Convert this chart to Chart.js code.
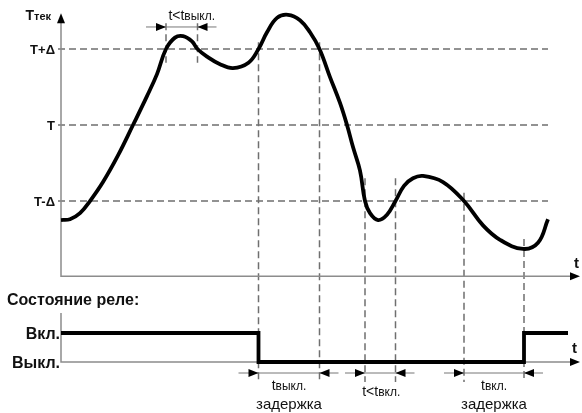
<!DOCTYPE html>
<html>
<head>
<meta charset="utf-8">
<script src="https://cdn.jsdelivr.net/npm/chart.js@4"></script>
<style>
  body { margin: 0; background: #fff; }
  #wrap { width: 582px; height: 413px; position: relative; }
</style>
</head>
<body>
<div id="wrap"><canvas id="myChart"></canvas></div>
<script>

const FONT = "'Liberation Sans', Arial, sans-serif";

// temperature curve (time units, temperature in Δ units around T)
const curveTime = [0, 1.8, 3.8, 5.8, 8.4, 11.4, 14.4, 17.2, 19.2, 21.0, 22.8, 24.4, 26.2, 27.3, 29.2, 31.8, 34.4, 37.5,
  39.5, 41.2, 43.2, 45.4, 47.8, 49.8, 51.7, 53.8, 55.8, 57.2, 58.4, 59.8, 60.8, 61.8, 63.4, 65.2, 66.9, 68.6, 70.4, 72.4,
  76.4, 80.6, 84.4, 87.8, 92.4, 95.4, 97.4];
const curveTemp = [-1.25, -1.24, -1.16, -1, -0.75, -0.4, 0, 0.38, 0.67, 1, 1.15, 1.17, 1.1, 1, 0.9, 0.8, 0.75, 0.82,
  1, 1.22, 1.41, 1.45, 1.38, 1.22, 1, 0.63, 0.29, 0, -0.29, -0.6, -1, -1.16, -1.25, -1.18, -1, -0.8, -0.7, -0.67,
  -0.75, -1, -1.32, -1.51, -1.63, -1.55, -1.24];

// threshold levels
const levelValues = [1, 0, -1];
const levelLabels = ['T+Δ', 'T', 'T-Δ'];
const levelFrom = -0.6;
const levelTo = 97.4;

// moments when the curve crosses a threshold
const eventTime = [39.5, 51.7, 60.8, 66.9, 80.6, 92.6];
const eventTop = [1.09, 1.09, -0.7, -0.7, -0.89, -1.5];
const eventBottom = -3.38;

// short overshoot (t < t выкл.)
const shortTime = [21.0, 27.3];
const shortTop = 1.34;
const shortBottom = 0.82;

// relay state
const relayTime = [0, 39.5, 92.6, 101.4];
const relayState = [1, 0, 1, 1];
const relayLabels = ['Выкл.', 'Вкл.'];

// axes extents
const axisTempMin = -1.99;
const axisTempMax = 1.47;
const axisTimeMax = 103.8;
const axisRelayMax = 1.69;

// timing brackets
const topGap = { from: 21.0, to: 27.3, level: 1.29, main: 't<t', sub: 'выкл.' };
const relayGapLevel = -0.38;
const relayGaps = [
  { from: 39.5, to: 51.7, main: 't', sub: 'выкл.', note: 'задержка' },
  { from: 60.8, to: 66.9, main: 't<t', sub: 'вкл.', note: '' },
  { from: 80.6, to: 92.6, main: 't', sub: 'вкл.', note: 'задержка' }
];

//################### helpers

const pts = (xs, ys) => xs.map((x, i) => ({ x: x, y: ys[i] }));

const segments = (list) => {
  const out = [];
  list.forEach(s => { out.push(s[0], s[1], { x: s[1].x, y: null }); });
  return out;
};

const arrowHead = (ctx, x, y, dir) => {
  // dir: 'up' | 'right' | 'left'
  const L = 10, W = 4;
  ctx.beginPath();
  if (dir === 'up') {
    ctx.moveTo(x, y); ctx.lineTo(x - W, y + L); ctx.lineTo(x + W, y + L);
  } else if (dir === 'right') {
    ctx.moveTo(x, y); ctx.lineTo(x - L, y - W); ctx.lineTo(x - L, y + W);
  } else {
    ctx.moveTo(x, y); ctx.lineTo(x + L, y - W); ctx.lineTo(x + L, y + W);
  }
  ctx.closePath();
  ctx.fillStyle = '#000';
  ctx.fill();
};

const drawParts = (ctx, parts, x, y, align) => {
  let total = 0;
  parts.forEach(p => { ctx.font = p[1]; total += ctx.measureText(p[0]).width; });
  let cx = align === 'right' ? x - total : align === 'center' ? x - total / 2 : x;
  ctx.textAlign = 'left';
  ctx.textBaseline = 'alphabetic';
  ctx.fillStyle = '#111';
  parts.forEach(p => {
    ctx.font = p[1];
    ctx.fillText(p[0], cx, y);
    cx += ctx.measureText(p[0]).width;
  });
};

const bracket = (ctx, x1, x2, y) => {
  ctx.save();
  ctx.strokeStyle = '#777';
  ctx.lineWidth = 1;
  ctx.beginPath();
  ctx.moveTo(x1 - 20, y); ctx.lineTo(x2 + 19, y);
  ctx.stroke();
  ctx.restore();
  arrowHead(ctx, x1, y, 'right');
  arrowHead(ctx, x2, y, 'left');
};

//################### annotation plugin

const annotate = {
  id: 'annotate',
  afterDatasetsDraw(chart) {
    const { ctx } = chart;
    const x = chart.scales.x, yT = chart.scales.yT, yR = chart.scales.yR;
    const x0 = x.getPixelForValue(0);

    ctx.save();

    // axis arrows
    arrowHead(ctx, x0, yT.getPixelForValue(axisTempMax), 'up');
    arrowHead(ctx, x.getPixelForValue(axisTimeMax), yT.getPixelForValue(axisTempMin), 'right');
    arrowHead(ctx, x.getPixelForValue(axisTimeMax), yR.getPixelForValue(0), 'right');

    // axis names
    drawParts(ctx, [['T', 'bold 14px ' + FONT], ['тек', 'bold 11px ' + FONT]],
      x0 - 10, yT.getPixelForValue(axisTempMax) + 7, 'right');
    drawParts(ctx, [['t', 'bold 15px ' + FONT]],
      x.getPixelForValue(axisTimeMax) - 6, yT.getPixelForValue(axisTempMin) - 8, 'left');
    drawParts(ctx, [['t', 'bold 15px ' + FONT]],
      x.getPixelForValue(axisTimeMax) - 8, yR.getPixelForValue(0) - 9, 'left');

    // level labels
    levelValues.forEach((v, i) => {
      drawParts(ctx, [[levelLabels[i], 'bold 13px ' + FONT]], x0 - 6, yT.getPixelForValue(v) + 5, 'right');
    });

    // relay labels
    drawParts(ctx, [['Состояние реле:', 'bold 16px ' + FONT]], 7, yR.getPixelForValue(axisRelayMax) - 8, 'left');
    relayLabels.forEach((lab, i) => {
      drawParts(ctx, [[lab, 'bold 16px ' + FONT]], x0 - 1, yR.getPixelForValue(i) + 6, 'right');
    });

    // top bracket
    const ty = yT.getPixelForValue(topGap.level);
    const tx1 = x.getPixelForValue(topGap.from), tx2 = x.getPixelForValue(topGap.to);
    bracket(ctx, tx1, tx2, ty);
    drawParts(ctx, [[topGap.main, '14px ' + FONT], [topGap.sub, '12px ' + FONT]], (tx1 + tx2) / 2 + 10, ty - 7, 'center');

    // relay brackets
    const ry = yR.getPixelForValue(relayGapLevel);
    relayGaps.forEach(g => {
      const a = x.getPixelForValue(g.from), b = x.getPixelForValue(g.to);
      bracket(ctx, a, b, ry);
      const cx = (a + b) / 2;
      if (g.note) {
        drawParts(ctx, [[g.main, '14px ' + FONT], [g.sub, '12px ' + FONT]], cx, ry + 17, 'center');
        drawParts(ctx, [[g.note, '15px ' + FONT]], cx, ry + 36, 'center');
      } else {
        drawParts(ctx, [[g.main, '14px ' + FONT], [g.sub, '12px ' + FONT]], cx + 1, ry + 23, 'center');
      }
    });

    ctx.restore();
  }
};

//################### chart

const dashed = { borderColor: '#6f6f6f', borderWidth: 1.5, borderDash: [7, 4], pointRadius: 0, spanGaps: false, fill: false };
const axisLine = { borderColor: '#8c8c8c', borderWidth: 1.5, pointRadius: 0, fill: false };

const data = {
  datasets: [
    {
      label: 'Tтек',
      data: pts(curveTime, curveTemp),
      yAxisID: 'yT',
      borderColor: '#000',
      borderWidth: 3.8,
      pointRadius: 0,
      tension: 0.4,
      borderJoinStyle: 'round',
      order: 0
    },
    {
      label: 'relay',
      data: pts(relayTime, relayState),
      yAxisID: 'yR',
      borderColor: '#000',
      borderWidth: 3.8,
      pointRadius: 0,
      stepped: 'before',
      order: 0
    },
    Object.assign({
      label: 'levels',
      yAxisID: 'yT',
      order: 5,
      data: segments(levelValues.map(v => [{ x: levelFrom, y: v }, { x: levelTo, y: v }]))
    }, dashed),
    Object.assign({
      label: 'events',
      yAxisID: 'yT',
      order: 5,
      data: segments(eventTime.map((t, i) => [{ x: t, y: eventTop[i] }, { x: t, y: eventBottom }]))
    }, dashed),
    Object.assign({
      label: 'short',
      yAxisID: 'yT',
      order: 5,
      data: segments(shortTime.map(t => [{ x: t, y: shortTop }, { x: t, y: shortBottom }]))
    }, dashed),
    Object.assign({
      label: 'axisT',
      yAxisID: 'yT',
      order: 4,
      data: [{ x: 0, y: axisTempMax - 0.05 }, { x: 0, y: axisTempMin }, { x: axisTimeMax - 1, y: axisTempMin }]
    }, axisLine),
    Object.assign({
      label: 'axisR',
      yAxisID: 'yR',
      order: 4,
      data: [{ x: 0, y: axisRelayMax }, { x: 0, y: 0 }, { x: axisTimeMax - 1, y: 0 }]
    }, axisLine)
  ]
};

const config = {
  type: 'line',
  data: data,
  options: {
    responsive: true,
    maintainAspectRatio: false,
    animation: false,
    events: [],
    layout: { padding: 0, autoPadding: false },
    plugins: { legend: { display: false }, tooltip: { enabled: false }, title: { display: false } },
    scales: {
      x: { type: 'linear', min: -12.2, max: 104.2, display: false },
      yT: { type: 'linear', min: -3.789, max: 1.645, display: false },
      yR: { type: 'linear', min: -1.759, max: 12.483, display: false }
    }
  },
  plugins: [annotate]
};

const myChart = new Chart(document.getElementById('myChart'), config);

</script>
</body>
</html>
